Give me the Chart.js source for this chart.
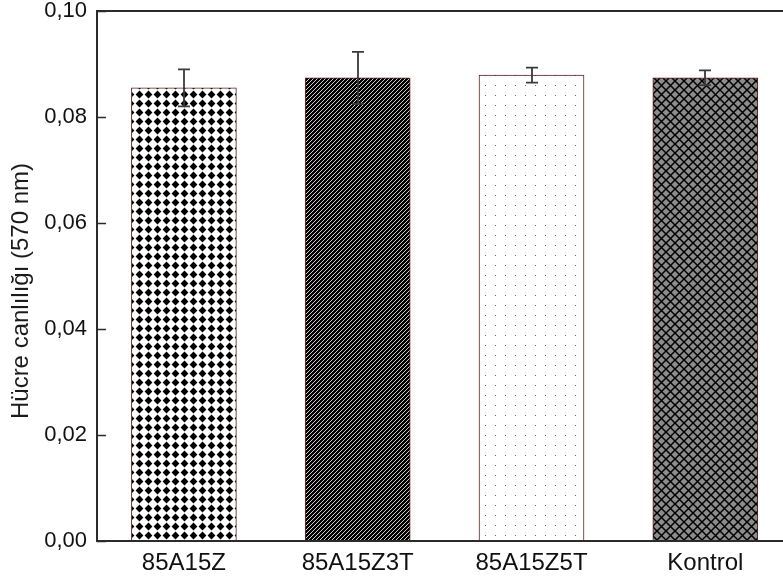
<!DOCTYPE html>
<html>
<head>
<meta charset="utf-8">
<script src="https://cdn.jsdelivr.net/npm/chart.js@4"></script>
<style>
html,body{margin:0;padding:0;background:#fff;}
#wrap{width:783px;height:585px;position:relative;}
</style>
</head>
<body>
<div id="wrap"><canvas id="c" width="783" height="585"></canvas></div>
<script>
const categories = ["85A15Z", "85A15Z3T", "85A15Z5T", "Kontrol"];
const values = [0.0855, 0.0874, 0.0879, 0.0874];
const errors = [0.0035, 0.0049, 0.0014, 0.0014];
const yTicks = [0, 0.02, 0.04, 0.06, 0.08, 0.10];
const yTitle = "Hücre canlılığı (570 nm)";

function tile(w, h, draw) {
  const c = document.createElement('canvas');
  c.width = w; c.height = h;
  const g = c.getContext('2d');
  draw(g, w, h);
  return document.getElementById('c').getContext('2d').createPattern(c, 'repeat');
}
const patDiamond = tile(9, 9, (g, w, h) => {
  g.fillStyle = '#fff'; g.fillRect(0, 0, w, h);
  g.fillStyle = '#000';
  g.beginPath();
  g.moveTo(4.5, 0.6); g.lineTo(8.4, 4.5); g.lineTo(4.5, 8.4); g.lineTo(0.6, 4.5); g.closePath();
  g.fill();
});
const patStripe = tile(4, 4, (g, w, h) => {
  g.fillStyle = '#000'; g.fillRect(0, 0, w, h);
  g.fillStyle = '#cfcfcf';
  g.fillRect(3, 0, 1, 1); g.fillRect(2, 1, 1, 1); g.fillRect(1, 2, 1, 1); g.fillRect(0, 3, 1, 1);
});
const patDots = tile(10, 10, (g, w, h) => {
  g.fillStyle = '#fff'; g.fillRect(0, 0, w, h);
  g.fillStyle = '#666'; g.fillRect(5, 5, 1, 1);
});
const patCross = tile(9, 9, (g, w, h) => {
  g.fillStyle = '#8c8c8c'; g.fillRect(0, 0, w, h);
  g.strokeStyle = '#000'; g.lineWidth = 1.5;
  g.beginPath();
  g.moveTo(-1, -1); g.lineTo(10, 10);
  g.moveTo(10, -1); g.lineTo(-1, 10);
  g.stroke();
});
const patterns = [patDiamond, patStripe, patDots, patCross];

const framePlugin = {
  id: 'frame',
  afterDatasetsDraw(chart) {
    const ctx = chart.ctx;
    const x = chart.scales.x, y = chart.scales.y;
    const ca = chart.chartArea;
    ctx.save();
    ctx.strokeStyle = '#3a3a3a';
    ctx.lineWidth = 1.8;
    values.forEach((v, i) => {
      const px = Math.round(x.getPixelForValue(i + 1));
      const top = y.getPixelForValue(v + errors[i]);
      const bot = y.getPixelForValue(v - errors[i]);
      ctx.beginPath();
      ctx.moveTo(px, top); ctx.lineTo(px, bot);
      ctx.moveTo(px - 6, top); ctx.lineTo(px + 6, top);
      ctx.moveTo(px - 6, bot); ctx.lineTo(px + 6, bot);
      ctx.stroke();
    });
    ctx.strokeStyle = '#2b2b2b';
    ctx.lineWidth = 2;
    ctx.beginPath();
    ctx.moveTo(chart.width + 2, ca.top); ctx.lineTo(ca.left, ca.top);
    ctx.lineTo(ca.left, ca.bottom); ctx.lineTo(chart.width + 2, ca.bottom);
    ctx.stroke();
    ctx.lineWidth = 1.6;
    ctx.beginPath();
    y.ticks.forEach(t => {
      const py = Math.round(y.getPixelForValue(t.value)) + 0.5;
      ctx.moveTo(ca.left, py); ctx.lineTo(ca.left + 9, py);
    });
    ctx.stroke();
    // y axis title
    ctx.fillStyle = '#1b1b1b';
    ctx.font = '24px "Liberation Sans"';
    ctx.textAlign = 'center';
    ctx.textBaseline = 'middle';
    ctx.translate(21, 291);
    ctx.rotate(-Math.PI / 2);
    ctx.fillText(yTitle, 0, 0);
    ctx.restore();
  }
};

new Chart(document.getElementById('c'), {
  type: 'bar',
  data: {
    datasets: [{
      data: values.map((v, i) => ({ x: i + 1, y: v })),
      backgroundColor: patterns,
      borderColor: '#5a1e1e',
      borderWidth: 1,
      barThickness: 105
    }]
  },
  options: {
    responsive: false,
    animation: false,
    devicePixelRatio: 1,
    layout: { padding: { top: 11, right: 0, bottom: 0, left: 0 } },
    plugins: { legend: { display: false }, tooltip: { enabled: false } },
    scales: {
      x: {
        type: 'linear',
        offset: false,
        min: 0.5,
        max: 4.447,
        grid: { display: false, drawTicks: false, offset: false },
        border: { display: false },
        afterBuildTicks(s) { s.ticks = categories.map((c, i) => ({ value: i + 1 })); },
        afterFit(s) { s.height = 44; s.paddingLeft = 0; s.paddingRight = 0; },
        ticks: {
          autoSkip: false,
          maxRotation: 0,
          padding: 8,
          color: '#111',
          font: { family: 'Liberation Sans', size: 24 },
          callback: (v) => categories[Math.round(v) - 1] || ''
        }
      },
      y: {
        min: 0,
        max: 0.10,
        grid: { display: false, drawTicks: false },
        border: { display: false },
        afterBuildTicks(s) { s.ticks = yTicks.map(v => ({ value: v })); },
        afterFit(s) { s.width = 97; s.paddingTop = 0; s.paddingBottom = 0; },
        ticks: {
          padding: 10,
          color: '#111',
          font: { family: 'Liberation Sans', size: 22 },
          callback: (v) => v.toFixed(2).replace('.', ',')
        }
      }
    }
  },
  plugins: [framePlugin]
});
</script>
</body>
</html>
